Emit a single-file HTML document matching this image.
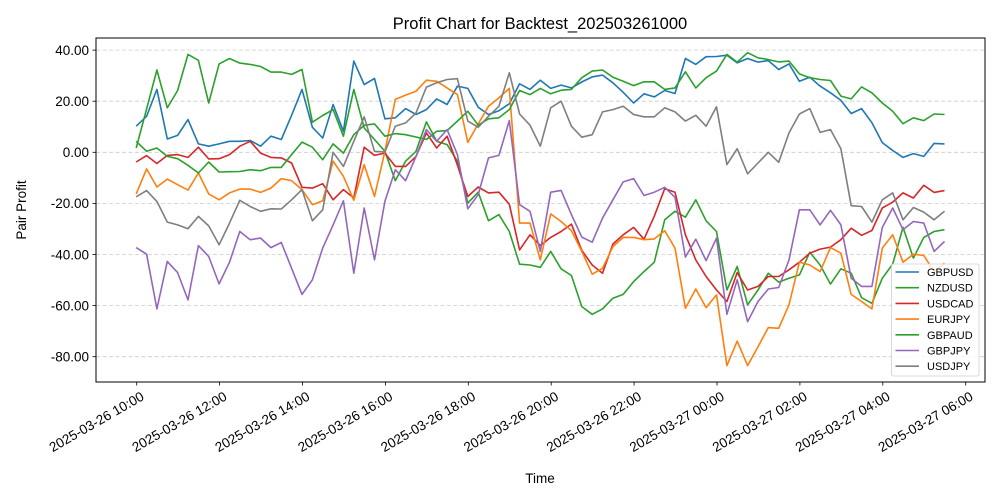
<!DOCTYPE html>
<html><head><meta charset="utf-8"><style>
body{margin:0;background:#fff;}
svg{display:block;font-family:"Liberation Sans","DejaVu Sans",sans-serif;}
</style></head><body>
<svg id="chart" width="1000" height="500" viewBox="0 0 1000 500" xmlns="http://www.w3.org/2000/svg">
<rect x="0" y="0" width="1000" height="500" fill="#fff"/>
<text x="540" y="29" text-anchor="middle" font-size="16.5" fill="#000">Profit Chart for Backtest_202503261000</text>
<g id="grid"></g>
<g id="series"></g>
<rect x="96" y="38" width="889" height="344" fill="none" stroke="#000" stroke-width="1"/>
<g id="yticks"></g>
<g id="xticks"></g>
<text transform="translate(26,210) rotate(-90)" text-anchor="middle" font-size="13.5" fill="#000">Pair Profit</text>
<text x="540" y="483" text-anchor="middle" font-size="13.5" fill="#000">Time</text>
<g id="legend"></g>
</svg>
<script>
const seriesNames = ["GBPUSD","NZDUSD","USDCAD","EURJPY","GBPAUD","GBPJPY","USDJPY"];
const yTickValues = [40,20,0,-20,-40,-60,-80];
const xTickHours = [0,2,4,6,8,10,12,14,16,18,20];
const xTickLabels = ["2025-03-26 10:00","2025-03-26 12:00","2025-03-26 14:00","2025-03-26 16:00","2025-03-26 18:00","2025-03-26 20:00","2025-03-26 22:00","2025-03-27 00:00","2025-03-27 02:00","2025-03-27 04:00","2025-03-27 06:00"];
const stepMinutes = 15;
const gbpusd = [10.2,14.1,24.6,5.2,6.6,12.8,3.3,2.4,3.3,4.3,4.3,4.6,2.4,6.3,
5,14.5,24.6,9.8,5.6,18.7,8.2,35.7,26.5,28.9,13.1,13.5,17.1,14.8,16.7,20.9,18.7,
25.9,25,17.6,14.8,16.3,19,26.8,24.6,28.2,25,26.3,25.2,27.5,29.5,30.2,27.2,23.5,
19.3,22.9,21.7,24.2,23,36.7,34.4,37.4,37.5,38,35,36.7,35.3,35.9,32.4,34.6,27.8,
29.4,25.9,23.3,20.3,15.2,17.1,11.6,3.8,0.7,-2,-0.5,-1.6,3.5,3.3];
const nzdusd = [1.7,17,32.2,17.4,24.2,38.3,36,19.3,34.6,36.7,34.9,34.4,33.6,31.4,
31.4,30.5,32.4,11.8,14.4,16.7,6.3,24.6,9.5,5,0.4,-11.1,-3.5,0.4,11.9,4.3,3,
-3.5,-19.9,-15.6,-26.8,-24.4,-31,-43.8,-44.1,-45,-38.8,-45.6,-48.2,-60.4,-63.4,-61.3,-57.1,-55.6,
-50.6,-46.7,-43,-26.4,-23.1,-25.4,-18.6,-26.8,-31,-53.9,-44.7,-59.7,-53.9,-47.3,-50.8,-49.3,-48,
-39.1,-44.1,-51.6,-45.6,-47.3,-56.9,-59.1,-49.3,-43.7,-29.4,-41.4,-33.3,-31,-30.3];
const usdcad = [-3.8,-1.3,-4.4,-1.2,-0.9,-2,2,-2.6,-2.5,-0.9,2.4,4.3,-0.3,-2,
-2.2,-4.2,-13.7,-14,-12.3,-18.6,-14.6,-17.9,2,-1.2,-0.3,-5.5,-5.5,-1.6,7.6,1.7,6.3,
-5,-17.3,-13.6,-15.9,-15.6,-20.3,-38.2,-32.3,-36.5,-33.3,-31,-28.1,-38.4,-44.1,-47.3,-35.9,-32.3,
-29.4,-34,-25,-14.2,-15.6,-32.3,-42.1,-48.6,-53.9,-58.4,-47.1,-53.9,-52.5,-48.6,-48.6,-46,-43,
-39.5,-37.9,-37.1,-34.2,-29.7,-32.5,-30.6,-21.8,-19.5,-15.9,-17.9,-12.9,-15.7,-15];
const eurjpy = [-16.3,-6.5,-13.6,-10.5,-12.7,-14.8,-8.1,-16.3,-18.6,-15.9,-14.4,-14.4,-15.7,-14,
-10.3,-11.1,-14.6,-20.5,-19,-3.5,-9.4,-18.8,-4.8,-17.3,0.4,20.7,22.4,23.9,28.2,27.8,25.2,
22.6,3.9,11.1,18,21.3,25,-27.7,-27.7,-42.1,-24.1,-27.1,-30.7,-38.8,-47.7,-45.4,-36.9,-33.3,
-33.3,-34.2,-33.9,-30.7,-37.5,-61,-53.5,-60.8,-55.8,-83.5,-73.9,-83.5,-76.1,-68.6,-68.9,-59.7,-43,
-44.1,-46.7,-37.3,-39.5,-55.6,-58.4,-61.3,-37.5,-32.3,-43,-39.9,-40.4,-46.7,-43.4];
const gbpaud = [4.3,0.4,1.7,-1.6,-2.5,-5.1,-8.1,-3.8,-7.7,-7.6,-7.5,-6.8,-7.2,-5.9,
-5.9,-0.9,4,2,-2.9,3.3,-0.3,6.9,10.6,11.1,6.3,7.3,6.9,6,5,8.2,8.5,
12.2,16.1,10.6,13.1,13.5,16.7,24.2,22.6,25,22.9,24.3,24.6,29.2,31.8,32.2,29.4,27.8,
26.1,27.6,27.6,24.6,25.2,31.5,25.2,29.2,31.8,38.3,35.3,39,37,36.3,35.4,35.7,30.7,
29.2,28.5,28.1,22,20.9,25.6,23.3,19.3,16.1,11.2,13.5,12.4,15,14.8];
const gbpjpy = [-37.3,-39.9,-61.3,-42.7,-47.1,-57.8,-36.5,-40.8,-51.5,-43,-31,-34.2,-33.6,-37.3,
-35.3,-45.4,-55.6,-49.9,-37.5,-28.4,-19,-47.3,-21.8,-42.1,-19.2,-6.8,-11.1,-1.6,8.9,4.3,8.9,
-0.9,-22.1,-16.6,-2.2,-1.2,12.4,-20.5,-23.1,-38.8,-15.6,-14.9,-24.4,-33.2,-35.2,-25.8,-18.6,-11.6,
-10.3,-16.9,-15.6,-13.7,-17.6,-41,-34,-42.4,-33.6,-63.4,-49.9,-66.3,-58.4,-53.5,-52.9,-42.1,-22.5,
-22.5,-28.4,-22.7,-28.4,-49.3,-52.5,-52.5,-29.4,-21.8,-30.3,-27.1,-27.7,-38.8,-34.9];
const usdjpy = [-17.4,-15,-19.2,-27.3,-28.4,-29.9,-25.1,-28.8,-36.2,-27.7,-18.8,-21.2,-23.1,-22.1,
-22.2,-18.6,-14.6,-26.8,-22.5,0,-5.5,4.3,13.9,0.4,0.1,10.2,11.5,15.4,25.5,27.2,28.5,
28.8,12.2,9.8,14.1,18,31.1,15,10.6,2.4,17.4,20,10.2,5.9,6.9,15.8,16.7,18,
14.8,13.9,13.9,17.4,15.8,12.2,14.5,10.2,17.8,-4.8,1.4,-8.4,-4.2,0,-3.9,7.6,15,
17.1,7.8,8.9,1.4,-20.9,-21.2,-27.3,-18.6,-15.9,-26.4,-21.6,-23.4,-26.4,-23.1];

const seriesValues = [gbpusd,nzdusd,usdcad,eurjpy,gbpaud,gbpjpy,usdjpy];
const colors = ["#1f77b4","#2ca02c","#d62728","#ff7f0e","#2ca02c","#9467bd","#7f7f7f"];
const NS = "http://www.w3.org/2000/svg";
function xScale(hours){ return 136.2 + hours*41.45; }
function yScale(v){ return 152.3 - v*2.555; }
function mk(tag, attrs, parent){ const e=document.createElementNS(NS,tag); for(const k in attrs) e.setAttribute(k,attrs[k]); parent.appendChild(e); return e; }

const grid=document.getElementById('grid'), yt=document.getElementById('yticks'), xt=document.getElementById('xticks');
yTickValues.forEach(v=>{
  const y=yScale(v);
  const gl=mk('line',{x1:96,x2:985,y1:y,y2:y,stroke:'#cccccc','stroke-width':0.8,'stroke-dasharray':'4,2.5'},grid);
  
  
  const tk=mk('line',{x1:92.5,x2:96,y1:y,y2:y,stroke:'#000','stroke-width':0.8},yt);
  
  
  const t=mk('text',{x:89,y:y+4.8,'text-anchor':'end','font-size':13.5,fill:'#000'},yt);
  t.textContent=v.toFixed(2);
  
  
});
xTickHours.forEach((h,i)=>{
  const x=xScale(h)+0.5;
  const tk=mk('line',{x1:x,x2:x,y1:382,y2:385.5,stroke:'#000','stroke-width':0.8},xt);
  
  
  const t=mk('text',{transform:`translate(${x+3},${390}) rotate(-30)`,'text-anchor':'end',dy:'0.78em','font-size':13.5,fill:'#000'},xt);
  t.textContent=xTickLabels[i];
  
  
});
const sg=document.getElementById('series');
seriesValues.forEach((vals,si)=>{
  const pts=vals.map((v,i)=>xScale(i*stepMinutes/60).toFixed(1)+','+yScale(v).toFixed(1)).join(' ');
  const p=mk('polyline',{points:pts,fill:'none',stroke:colors[si],'stroke-width':1.6,'stroke-linejoin':'round'},sg);
  
  
});
const lg=document.getElementById('legend');
const box=mk('rect',{x:891.5,y:264,width:87.5,height:112,rx:2,fill:'#fff','fill-opacity':0.8,stroke:'#d0d0d0','stroke-width':0.8},lg);


seriesNames.forEach((n,i)=>{
  const y=272+i*15.7;
  const l=mk('line',{x1:895.5,x2:919,y1:y,y2:y,stroke:colors[i],'stroke-width':1.6},lg);
  
  
  const t=mk('text',{x:927,y:y+4,'font-size':11,fill:'#000'},lg);
  t.textContent=n;
  
  
});
</script>
</body></html>
